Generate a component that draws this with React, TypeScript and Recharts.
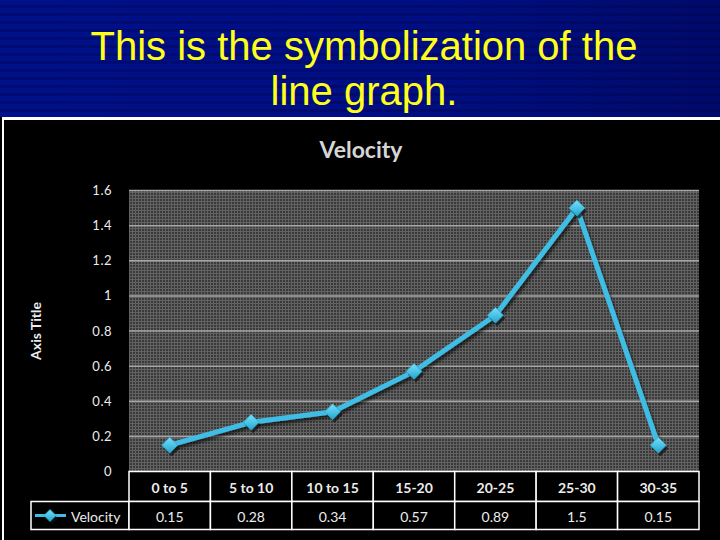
import { LineChart, Line, XAxis, YAxis, CartesianGrid } from "recharts";

const slideTitle = ["This is the symbolization of the", "line graph."];
const chartTitle = "Velocity";
const yAxisTitle = "Axis Title";
const seriesName = "Velocity";

const categories = ["0 to 5", "5 to 10", "10 to 15", "15-20", "20-25", "25-30", "30-35"];
const velocity = [0.15, 0.28, 0.34, 0.57, 0.89, 1.5, 0.15];
const yTicks = [0, 0.2, 0.4, 0.6, 0.8, 1, 1.2, 1.4, 1.6];

const rows = categories.map((range, i) => ({ range, velocity: velocity[i] }));

// layout
const W = 720;
const H = 540;
const PLOT_L = 129;
const PLOT_R = 699;
const PLOT_T = 190.5;
const PLOT_B = 471.5;
const ROW1 = 30;
const ROW2 = 28;
const LEGEND_L = 31;
const BW = (PLOT_R - PLOT_L) / categories.length;
const Y_AXIS_W = 60;

const CYAN = "#3fbde4";
const TEXT = "#ececec";
const FONT = "Lato, 'Open Sans', sans-serif";

function Diamond({ cx, cy, s = 8 }: { cx: number; cy: number; s?: number }) {
  const pts = (dx: number, dy: number) =>
    `${cx + dx},${cy + dy - s} ${cx + dx + s},${cy + dy} ${cx + dx},${cy + dy + s} ${cx + dx - s},${cy + dy}`;
  return (
    <g>
      <polygon points={pts(2, 3)} fill="#111" opacity={0.7} />
      <polygon points={pts(0, 0)} fill="url(#diamondFill)" stroke="#2aa6cc" strokeWidth={0.8} />
    </g>
  );
}

function CategoryTick({ x, payload }: any) {
  return (
    <g>
      <rect x={x - BW / 2} y={PLOT_B} width={BW} height={ROW1} fill="#000" stroke="#fff" strokeWidth={1.5} />
      <text
        x={x}
        y={PLOT_B + ROW1 / 2 + 1}
        textAnchor="middle"
        dominantBaseline="central"
        fill={TEXT}
        fontSize={14}
        fontWeight="bold"
        fontFamily={FONT}
      >
        {payload.value}
      </text>
    </g>
  );
}

function ValueTick({ x, index }: any) {
  const top = PLOT_B + ROW1;
  return (
    <g>
      {index === 0 && (
        <g>
          <rect x={LEGEND_L} y={top} width={PLOT_L - LEGEND_L} height={ROW2} fill="#000" stroke="#fff" strokeWidth={1.5} />
          <line x1={35} x2={66} y1={top + ROW2 / 2} y2={top + ROW2 / 2} stroke={CYAN} strokeWidth={3} />
          <Diamond cx={50} cy={top + ROW2 / 2} s={6} />
          <text x={71} y={top + ROW2 / 2 + 1} dominantBaseline="central" fill={TEXT} fontSize={14} fontFamily={FONT}>
            {seriesName}
          </text>
        </g>
      )}
      <rect x={x - BW / 2} y={top} width={BW} height={ROW2} fill="#000" stroke="#fff" strokeWidth={1.5} />
      <text
        x={x}
        y={top + ROW2 / 2 + 1}
        textAnchor="middle"
        dominantBaseline="central"
        fill={TEXT}
        fontSize={14}
        fontFamily={FONT}
      >
        {String(velocity[index])}
      </text>
    </g>
  );
}

function AxisTitle() {
  const cx = 35;
  const cy = (PLOT_T + PLOT_B) / 2;
  return (
    <text
      x={cx}
      y={cy}
      transform={`rotate(-90 ${cx} ${cy})`}
      textAnchor="middle"
      dominantBaseline="central"
      fill={TEXT}
      fontSize={14}
      fontWeight="bold"
      fontFamily={FONT}
    >
      {yAxisTitle}
    </text>
  );
}

export default function App() {
  return (
    <div
      style={{
        position: "absolute",
        left: 0,
        top: 0,
        width: W,
        height: H,
        overflow: "hidden",
        background: "#000",
      }}
    >
      <div
        style={{
          position: "absolute",
          left: 0,
          top: 0,
          width: W,
          height: 117,
          background:
            "repeating-linear-gradient(180deg, rgba(0,0,0,0) 0px, rgba(0,0,0,0) 5px, rgba(0,0,40,0.25) 5px, rgba(0,0,40,0.25) 8px), linear-gradient(90deg, #00108a 0%, #000e84 60%, #000a6c 100%)",
        }}
      />
      <div
        style={{
          position: "absolute",
          left: 4,
          top: 24,
          width: W,
          textAlign: "center",
          fontFamily: "'Liberation Sans', Arial, sans-serif",
          fontSize: 40,
          lineHeight: "45px",
          color: "#ffff1a",
        }}
      >
        {slideTitle.map((t) => (
          <div key={t}>{t}</div>
        ))}
      </div>
      <div
        style={{
          position: "absolute",
          left: 2,
          top: 117,
          width: W - 2,
          height: H - 117,
          background: "#000",
          borderTop: "3px solid #fff",
          borderLeft: "2px solid #fff",
          boxSizing: "border-box",
        }}
      />
      <div
        style={{
          position: "absolute",
          left: 211,
          top: 136,
          width: 300,
          textAlign: "center",
          fontFamily: FONT,
          fontWeight: "bold",
          fontSize: 23,
          lineHeight: "27.6px",
          color: "#d6d6d6",
        }}
      >
        {chartTitle}
      </div>
      <div style={{ position: "absolute", left: 0, top: 0 }}>
        <LineChart
          width={W}
          height={H}
          data={rows}
          margin={{
            top: PLOT_T,
            right: W - PLOT_R,
            bottom: H - PLOT_B - ROW1 - ROW2,
            left: PLOT_L - Y_AXIS_W,
          }}
        >
          <defs>
            <pattern id="plotTex" width={3} height={3} patternUnits="userSpaceOnUse">
              <rect width={3} height={3} fill="#3a3a3a" />
              <rect width={3} height={1} fill="#626262" />
              <rect width={1} height={3} fill="#626262" />
            </pattern>
            <linearGradient id="diamondFill" x1="0" y1="0" x2="0" y2="1">
              <stop offset="0%" stopColor="#7fdcf6" />
              <stop offset="55%" stopColor="#45c2e6" />
              <stop offset="100%" stopColor="#2a9fc6" />
            </linearGradient>
            <filter id="lineShadow" x="-10%" y="-10%" width="130%" height="140%">
              <feDropShadow dx="2" dy="3" stdDeviation="1.5" floodColor="#000" floodOpacity="0.6" />
            </filter>
          </defs>
          <CartesianGrid
            xAxisId="cat"
            vertical={false}
            stroke="#a6a6a6"
            strokeWidth={1.5}
            fill="url(#plotTex)"
            fillOpacity={1}
          />
          <XAxis
            xAxisId="cat"
            dataKey="range"
            height={ROW1}
            axisLine={false}
            tickLine={false}
            interval={0}
            padding={{ left: BW / 2, right: BW / 2 }}
            tick={<CategoryTick />}
          />
          <XAxis
            xAxisId="val"
            dataKey="range"
            height={ROW2}
            axisLine={false}
            tickLine={false}
            interval={0}
            padding={{ left: BW / 2, right: BW / 2 }}
            tick={<ValueTick />}
          />
          <YAxis
            width={Y_AXIS_W}
            domain={[0, 1.6]}
            ticks={yTicks}
            interval={0}
            axisLine={false}
            tickLine={false}
            tickMargin={11}
            tick={{ fill: TEXT, fontSize: 13, fontFamily: FONT, letterSpacing: 0.5 }}
            label={() => <AxisTitle />}
          />
          <Line
            xAxisId="cat"
            type="linear"
            dataKey="velocity"
            name={seriesName}
            stroke={CYAN}
            strokeWidth={5}
            filter="url(#lineShadow)"
            dot={(p: any) => <Diamond key={p.index} cx={p.cx} cy={p.cy} />}
            activeDot={false}
            isAnimationActive={false}
          />
        </LineChart>
      </div>
    </div>
  );
}
